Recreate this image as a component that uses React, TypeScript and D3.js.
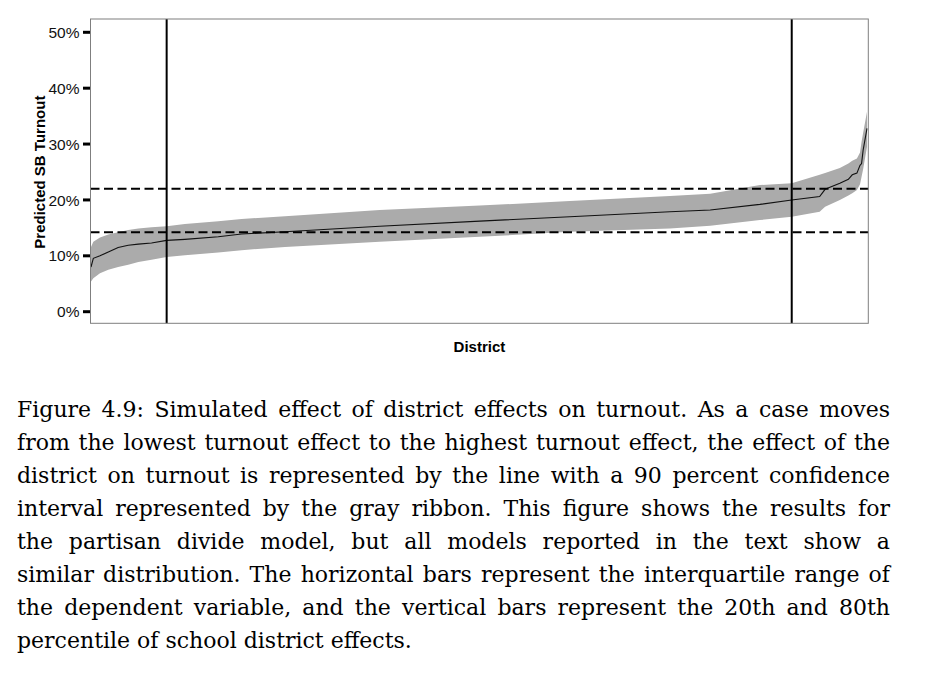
import React, { useLayoutEffect, useRef } from 'react';
import * as d3 from 'd3';

// district rank (percent of districts, sorted by effect)
const rank = [0, 0.3, 1.16, 2.23, 3.5, 4.8, 6.1, 7.8, 9.75, 12.1, 16.4, 19.4, 25, 37.2, 50.1, 61.7, 74.6, 79.8, 86.2, 90.3, 93.9, 94.6, 96.5, 97.6, 98.1, 98.7, 99.1, 99.3, 99.5, 100];
const fit = [0.080, 0.0955, 0.100, 0.107, 0.115, 0.119, 0.121, 0.123, 0.1277, 0.1295, 0.134, 0.139, 0.143, 0.153, 0.162, 0.170, 0.179, 0.182, 0.192, 0.200, 0.206, 0.219, 0.230, 0.237, 0.245, 0.248, 0.262, 0.265, 0.289, 0.328];
const lower = [0.054, 0.060, 0.069, 0.075, 0.080, 0.084, 0.089, 0.093, 0.098, 0.101, 0.106, 0.110, 0.116, 0.125, 0.134, 0.143, 0.149, 0.154, 0.164, 0.170, 0.179, 0.188, 0.200, 0.208, 0.212, 0.218, 0.228, 0.2415, 0.255, 0.295];
const upper = [0.116, 0.125, 0.133, 0.138, 0.142, 0.146, 0.149, 0.151, 0.153, 0.157, 0.162, 0.166, 0.171, 0.182, 0.190, 0.198, 0.207, 0.211, 0.2267, 0.230, 0.245, 0.248, 0.257, 0.265, 0.270, 0.274, 0.285, 0.304, 0.320, 0.358];

const yTicks = [0, 0.1, 0.2, 0.3, 0.4, 0.5];
const hLines = [0.142, 0.22];
const vLines = [9.75, 90.3];

const captionLines = [
  'Figure 4.9: Simulated effect of district effects on turnout. As a case moves',
  'from the lowest turnout effect to the highest turnout effect, the effect of the',
  'district on turnout is represented by the line with a 90 percent confidence',
  'interval represented by the gray ribbon. This figure shows the results for',
  'the partisan divide model, but all models reported in the text show a',
  'similar distribution. The horizontal bars represent the interquartile range of',
  'the dependent variable, and the vertical bars represent the 20th and 80th',
  'percentile of school district effects.',
];

export default function App() {
  const W = 927, H = 693;
  const panel = { left: 90.5, right: 868.3, top: 19, bottom: 323.3 };
  const x = d3.scaleLinear().domain([0, 100]).range([91, 867]);
  const y = d3.scaleLinear().domain([0, 0.5]).range([311.7, 32.3]);
  const data = rank.map((r, i) => ({ r, f: fit[i], lo: lower[i], hi: upper[i] }));
  const area = d3.area<any>().x(d => x(d.r)).y0(d => y(d.lo)).y1(d => y(d.hi));
  const line = d3.line<any>().x(d => x(d.r)).y(d => y(d.f));
  const fmt = d3.format('.0%');

  const capRefs = useRef<(SVGTextElement | null)[]>([]);
  const capX0 = 17, capX1 = 890;
  useLayoutEffect(() => {
    capRefs.current.forEach((el, i) => {
      if (!el || i === captionLines.length - 1) return;
      el.setAttribute('word-spacing', '0');
      const w = el.getComputedTextLength();
      const n = captionLines[i].split(' ').length - 1;
      if (n > 0) el.setAttribute('word-spacing', String((capX1 - capX0 - w) / n));
    });
  }, []);

  return (
    <svg width={W} height={H} style={{ position: 'absolute', left: 0, top: 0, background: '#fff' }}>
      <rect x={0} y={0} width={W} height={H} fill="#fff" />
      <path d={area(data) || ''} fill="#ababab" />
      <path d={line(data) || ''} fill="none" stroke="#111" strokeWidth={1.1} />
      {hLines.map((v, i) => (
        <line key={'h' + i} x1={panel.left} x2={panel.right} y1={y(v)} y2={y(v)}
          stroke="#000" strokeWidth={2} strokeDasharray="9,4.5" />
      ))}
      {vLines.map((v, i) => (
        <line key={'v' + i} x1={x(v)} x2={x(v)} y1={panel.top} y2={panel.bottom}
          stroke="#000" strokeWidth={2} />
      ))}
      <rect x={panel.left} y={panel.top} width={panel.right - panel.left} height={panel.bottom - panel.top}
        fill="none" stroke="#7f7f7f" strokeWidth={1} />
      {yTicks.map((t, i) => (
        <g key={'t' + i}>
          <line x1={83} x2={90} y1={y(t)} y2={y(t)} stroke="#000" strokeWidth={3} />
          <text x={79.5} y={y(t)} dy="0.36em" textAnchor="end"
            fontFamily="Liberation Sans, Arial, sans-serif" fontSize={15.5} fill="#111">{fmt(t)}</text>
        </g>
      ))}
      <text transform={`translate(45,${(panel.top + panel.bottom) / 2 + 1}) rotate(-90)`} textAnchor="middle"
        fontFamily="Liberation Sans, Arial, sans-serif" fontWeight="bold" fontSize={15} fill="#000">Predicted SB Turnout</text>
      <text x={(panel.left + panel.right) / 2} y={351.7} textAnchor="middle"
        fontFamily="Liberation Sans, Arial, sans-serif" fontWeight="bold" fontSize={15} fill="#000">District</text>
      {captionLines.map((l, i) => (
        <text key={'c' + i} ref={el => { capRefs.current[i] = el; }} x={capX0} y={417.3 + i * 33}
          fontFamily="DejaVu Serif, serif" fontSize={22} fill="#000">{l}</text>
      ))}
    </svg>
  );
}
